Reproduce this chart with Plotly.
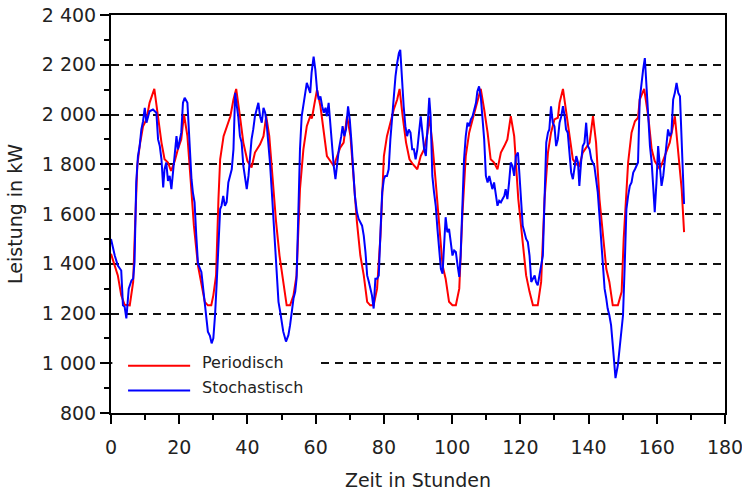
import plotly.graph_objects as go

# Periodic load profile (hour, kW)
red_x = [0, 1, 2, 3, 4, 5.5, 6.5, 7.1, 7.7, 8.4, 9.4, 10.4, 11.3, 12.7, 13.8, 14.8, 15.7, 16.7, 17.6, 18.7,
         19.6, 20.6, 21.4, 22.4, 23.4, 24.3, 25.5, 26.5, 27.5, 28.4, 29.4,
         30, 30.8, 31.5, 32, 33, 34, 35, 35.9, 36.7, 37.8, 38.8, 40, 41.2, 42.2, 43.7, 44.7, 45.5, 46.4,
         47.4, 48.4, 49.4, 50.3, 51.5, 52.5, 53.5, 54.4, 55.4, 56.4, 57.4, 58.4, 58.9, 59.6, 60.4,
         61.4, 62.4, 63.3, 64.3, 65.3, 66.3, 67.2, 68.2, 69.2, 70.2, 71.2, 72.1, 73.1, 74.1, 75.1, 76,
         77, 78, 79, 80, 80.9, 81.9, 82.9, 83.9, 84.6, 85.5, 86.5, 87.5, 88.5, 89.8,
         90.8, 91.8, 92.8, 93.3, 94.2, 95.2, 96.2, 97.2, 98.1, 99.1, 100.1, 101.1, 102.1, 103, 104, 105,
         106, 107, 108.4, 109.4, 110.4, 111.3, 112.3, 113.3, 114.3, 115.3, 116.2, 117.2, 118.2, 119.4,
         120.7, 121.7, 122.7, 123.7, 125.1, 126.1, 127.1, 128.1, 129, 130, 131, 131.5, 132.5, 133.4,
         134.4, 135.4, 136.4, 137.3, 138.3, 139.3, 140.3, 141.3, 142.2, 143.2, 144.2, 145.2, 146.1,
         147.1, 148.6, 149.7, 150.3, 151.1, 151.6, 152.6, 153.6, 154.5, 155, 156.3, 157.5, 158.5,
         159.4, 160.9, 161.9, 162.9, 163.8, 165.3, 166.3, 167.3, 168]
red_y = [1440, 1395, 1353, 1273, 1235, 1233, 1327, 1567, 1793, 1873, 1953, 1980, 2047, 2103, 1993, 1887, 1820, 1807, 1773, 1813,
         1860, 1900, 2000, 1913, 1727, 1553, 1393, 1327, 1247, 1233, 1233,
         1273, 1353, 1660, 1820, 1913, 1953, 1993, 2060, 2103, 1993, 1887, 1813, 1787, 1847, 1880, 1913, 1993, 1913,
         1727, 1567, 1433, 1340, 1233, 1233, 1273, 1353, 1700, 1860, 1953, 1993, 1985, 2040, 2100,
         2033, 1927, 1833, 1813, 1793, 1833, 1867, 1887, 1993, 1913, 1727, 1567, 1433, 1353, 1247, 1233,
         1233, 1300, 1513, 1833, 1913, 1967, 2020, 2060, 2103, 1993, 1887, 1820, 1800, 1780,
         1833, 1860, 1927, 1993, 1887, 1727, 1553, 1393, 1340, 1247, 1233, 1233, 1300, 1593, 1833, 1927,
         1980, 2033, 2103, 2020, 1927, 1820, 1807, 1780, 1847, 1873, 1900, 1993, 1913, 1660,
         1487, 1353, 1287, 1233, 1233, 1327, 1660, 1847, 1927, 1980, 1987, 2047, 2103, 2020,
         1927, 1820, 1800, 1793, 1847, 1867, 1887, 1993, 1887, 1660, 1513, 1380, 1327,
         1233, 1233, 1287, 1500, 1727, 1807, 1927, 1973, 1987, 2060, 2103, 1993, 1860,
         1813, 1780, 1820, 1860, 1887, 1993, 1860, 1700, 1527]

# Stochastic load profile (hour, kW)
blue_x = [0, 1.1, 2, 3, 3.5, 4, 4.5, 5.2, 6, 6.5, 6.9, 7.4, 7.9, 8.4, 8.9, 9.4, 9.9, 10.4, 10.9, 11.3, 12.3,
          13.3, 13.8, 14.3, 14.8, 15.3, 15.7, 16.2, 16.7, 17.2, 17.7, 18.2, 18.7, 19.2, 19.6, 20.1, 20.6,
          21.1, 21.6, 22.4, 22.9, 23.6, 24, 24.5, 25, 25.5, 26.5, 27.5, 28.4, 29, 29.5,
          30, 30.5, 31, 31.5, 32, 32.4, 32.9, 33.4, 33.9, 34.4, 34.9, 35.4, 35.9, 36.4, 36.9, 37.3, 37.8,
          38.3, 38.8, 39.3, 39.8, 40.3, 40.8, 41.2, 41.7, 42.2, 42.7, 43.2, 43.7, 44.2, 44.7, 45.2, 45.6,
          46.1, 46.6, 47.1, 47.6, 48.1, 48.6, 49.1, 49.6, 50, 50.5, 51.3, 52, 52.5, 53, 53.5, 54, 54.4,
          54.9, 55.4, 55.9, 56.4, 56.9, 57.4, 57.9, 58.4, 58.8, 59.4,
          59.9, 60.4, 60.9, 61.4, 61.9, 62.4, 62.9, 63.3, 63.8, 64.3, 64.8, 65.3, 65.8, 66.3, 66.8, 67.5,
          67.9, 68.4, 68.9, 69.5, 70, 70.5, 71, 71.5, 72.1, 72.6, 73.6, 74.1, 74.6, 75.1, 75.6, 76, 76.5,
          77, 77.5, 78, 78.5, 79, 79.5, 80, 80.4, 80.9, 81.4, 81.9, 82.4, 82.9, 83.4, 83.9, 84.4, 84.8,
          85.3, 85.8, 86.3, 86.8, 87.3, 87.8, 88.3, 88.8, 89.3,
          89.8, 90.3, 90.8, 91.3, 91.8, 92.3, 92.8, 93.3, 93.7, 94.2, 94.7, 95.2, 95.7, 96.2, 96.7, 97.2,
          97.7, 98.1, 98.6, 99.1, 99.6, 100.1, 100.6, 101.1, 101.6, 102.1, 102.5, 103, 103.5, 104, 104.5,
          105, 105.5, 106, 106.5, 107, 107.4, 107.9, 108.4, 108.9, 109.4, 109.9, 110.4, 110.9, 111.3,
          111.8, 112.3, 112.8, 113.3, 113.8, 114.3, 114.8, 115.3, 115.7, 116.2, 116.7, 117.2, 117.7,
          118.2, 118.7, 119.3,
          119.7, 120.2, 120.7, 121.2, 121.7, 122.2, 122.7, 123.2, 123.7, 124.2, 124.6, 125.1, 125.6,
          126.1, 126.6, 127.1, 127.6, 128.1, 128.5, 129, 129.5, 130, 130.5, 131, 131.5, 132, 132.5, 133,
          133.4, 133.9, 134.4, 134.9, 135.4, 135.9, 136.4, 136.9, 137.3, 137.8, 138.3, 138.8, 139.3,
          139.8, 140.3, 140.8, 141.3, 141.7, 142.2, 142.7, 143.2, 143.7, 144.2, 144.7, 145.2, 145.6,
          146.1, 146.6, 147.1, 147.6, 147.9, 148.6, 149.1, 149.7, 150.1, 150.6, 151.1, 151.6, 152.1,
          152.6, 153.1, 153.6, 154.1, 154.5, 155, 155.5, 156, 156.5, 157, 157.5, 158, 158.5, 159, 159.4,
          159.9, 160.4, 160.9, 161.4, 161.9, 162.4, 162.9, 163.3, 163.8, 164.3, 164.8, 165.3, 165.8,
          166.3, 166.8, 167.3, 167.7, 168]
blue_y = [1500, 1433, 1393, 1373, 1233, 1227, 1180, 1300, 1333, 1340, 1407, 1727, 1833, 1873, 1940, 1973, 2027, 1967, 1993, 2013, 2020,
          2007, 1900, 1873, 1820, 1707, 1780, 1807, 1733, 1753, 1700, 1767, 1860, 1913, 1860, 1900, 1927,
          2047, 2067, 2047, 1913, 1740, 1687, 1647, 1513, 1400, 1367, 1247, 1127, 1110, 1080,
          1100, 1193, 1327, 1513, 1620, 1633, 1673, 1633, 1647, 1727, 1753, 1780, 1860, 2087, 2033, 1993, 1913,
          1887, 1793, 1753, 1700, 1753, 1833, 1900, 1940, 1993, 2020, 2047, 1993, 1967, 2027, 2007, 1967,
          1900, 1807, 1700, 1593, 1487, 1367, 1247, 1207, 1167, 1127, 1087, 1113, 1153, 1220, 1260, 1287, 1340,
          1593, 1860, 1993, 2033, 2073, 2127, 2107, 2087, 2167, 2233,
          2180, 2100, 2060, 2073, 2033, 2007, 2027, 1993, 2047, 1953, 1900, 1793, 1740, 1807, 1860, 1913,
          1953, 1913, 1940, 2033, 1980, 1887, 1780, 1673, 1607, 1580, 1553, 1513, 1447, 1353, 1327, 1307, 1273,
          1220, 1340, 1340, 1353, 1527, 1687, 1740, 1753, 1753, 1780, 1900, 1993, 2060, 2153, 2207, 2247, 2260,
          2127, 2033, 1953, 1913, 1940, 1927, 1860, 1860, 1820,
          1860, 1927, 1993, 1927, 1860, 1833, 1967, 2067, 1993, 1753, 1687, 1633, 1540, 1460, 1380, 1360,
          1487, 1587, 1527, 1540, 1487, 1433, 1453, 1447, 1393, 1347, 1433, 1660, 1820, 1913, 1967,
          1953, 1980, 1993, 2020, 2047, 2093, 2113, 2073, 1993, 1900, 1753, 1727, 1753, 1727,
          1700, 1727, 1673, 1633, 1653, 1647, 1660, 1673, 1700, 1660, 1727, 1807, 1793,
          1753, 1833, 1847,
          1767, 1660, 1553, 1527, 1500, 1487, 1433, 1327, 1340, 1353, 1327, 1313, 1353,
          1393, 1433, 1660, 1887, 1927, 1940, 2033, 1967, 1953, 1873, 1900, 1967, 1993, 2033, 1993,
          1940, 1927, 1847, 1767, 1740, 1793, 1833, 1807, 1713, 1807, 1873, 1887, 1967,
          1873, 1860, 1820, 1807, 1793, 1740, 1687, 1593, 1500, 1393, 1300, 1260, 1220,
          1193, 1153, 1073, 980, 940, 993, 1060, 1140, 1193, 1393, 1620, 1673, 1713,
          1727, 1767, 1780, 1793, 1807, 2060, 2127, 2180, 2227, 2127, 1993, 1873, 1807, 1700, 1607,
          1727, 1873, 1793, 1713, 1753, 1820, 1873, 1940, 1913, 1927, 2060, 2087, 2127,
          2087, 2073, 1860, 1740, 1640]

series_names = ["Periodisch", "Stochastisch"]
series_colors = ["#ff0000", "#0000ff"]
x_title = "Zeit in Stunden"
y_title = "Leistung in kW"

FONT = "DejaVu Sans"
TXT = "#222222"

fig = go.Figure()
fig.add_trace(go.Scatter(x=red_x, y=red_y, mode="lines", name=series_names[0],
                         line=dict(color=series_colors[0], width=2), showlegend=False))
fig.add_trace(go.Scatter(x=blue_x, y=blue_y, mode="lines", name=series_names[1],
                         line=dict(color=series_colors[1], width=2), showlegend=False))

# legend (drawn manually to get the long line samples)
fig.add_shape(type="rect", x0=0.4, x1=61.5, y0=940, y1=1060, xref="x", yref="y",
              fillcolor="white", line=dict(width=0), layer="between")
leg_y = [990, 890]
for i in range(2):
    fig.add_shape(type="line", x0=5.0, x1=23.2, y0=leg_y[i], y1=leg_y[i], xref="x", yref="y",
                  line=dict(color=series_colors[i], width=2))
    fig.add_annotation(x=26.0, y=leg_y[i] + 12, xref="x", yref="y", text=series_names[i],
                       showarrow=False, xanchor="left", yanchor="middle",
                       font=dict(family=FONT, size=16, color=TXT))

axis_common = dict(showline=True, linecolor="black", linewidth=2, mirror=True,
                   ticks="outside", ticklen=9, tickwidth=2, tickcolor="black", automargin=False,
                   tickfont=dict(family=FONT, size=19, color=TXT), zeroline=False)

fig.update_xaxes(range=[0, 180], dtick=20, tick0=0, showgrid=False, ticklabelstandoff=7,
                 ticklabeloverflow="allow",
                 minor=dict(dtick=10, ticks="outside", ticklen=5, tickwidth=2, tickcolor="black"),
                 title=dict(text=x_title, font=dict(family=FONT, size=19, color=TXT), standoff=19),
                 **axis_common)
fig.update_yaxes(range=[800, 2400], dtick=200, tick0=800, tickformat=",d",
                 showgrid=True, gridcolor="#111111", gridwidth=2, griddash="8px,6px",
                 minor=dict(dtick=100, ticks="outside", ticklen=5, tickwidth=2, tickcolor="black"),
                 title=dict(text=y_title, font=dict(family=FONT, size=19, color=TXT), standoff=14),
                 **axis_common)

fig.update_layout(width=742, height=491, margin=dict(l=111, r=17, t=15, b=78),
                  plot_bgcolor="white", paper_bgcolor="white", separators=", ",
                  font=dict(family=FONT, size=19, color=TXT))

fig.write_html("out.html")
